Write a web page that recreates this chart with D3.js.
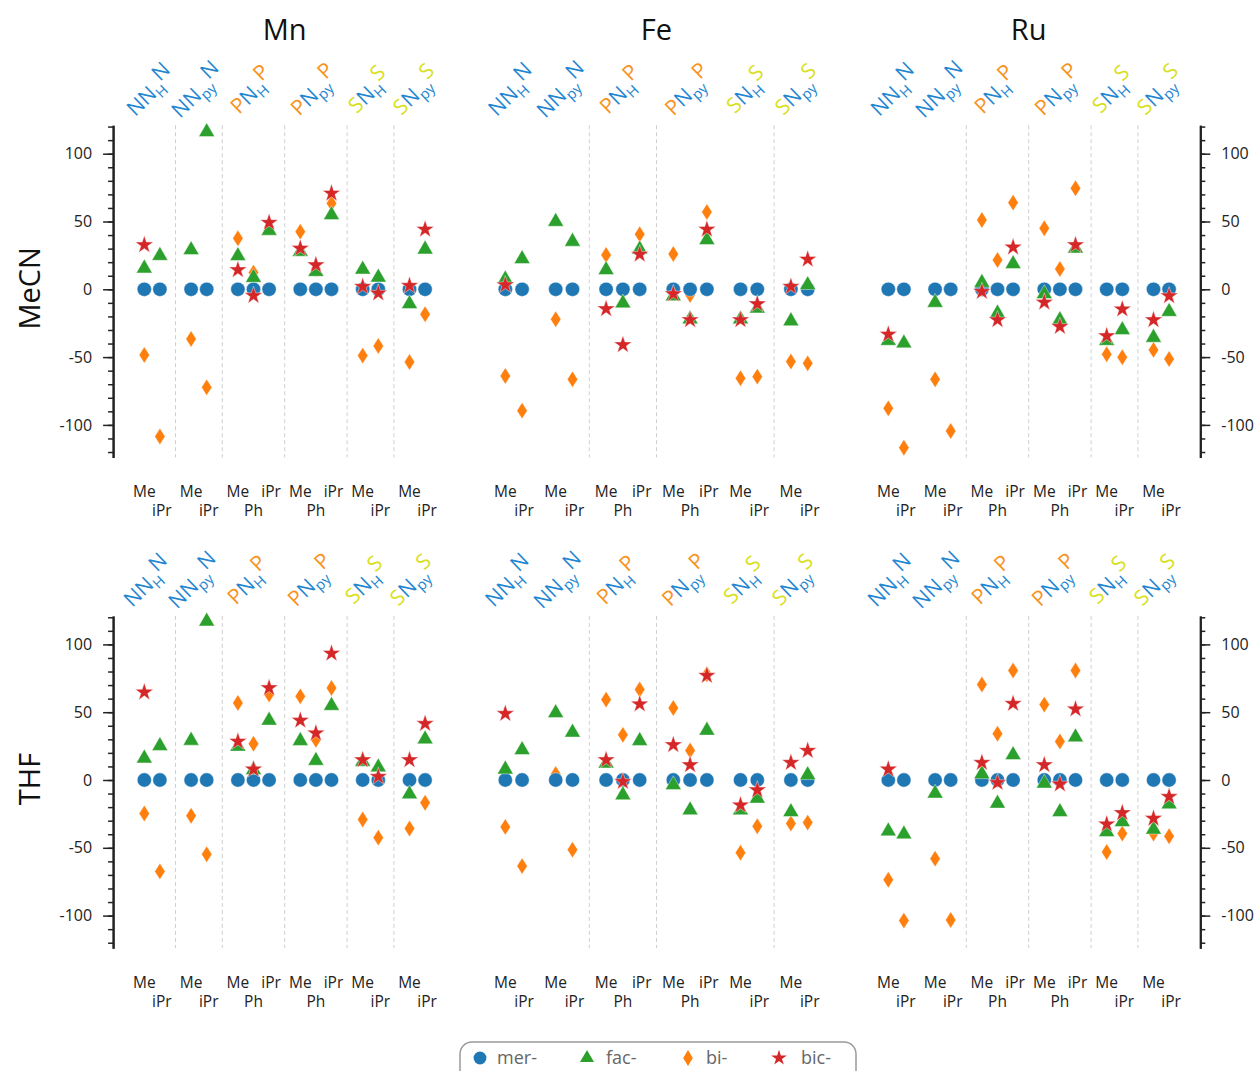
<!DOCTYPE html>
<html><head><meta charset="utf-8">
<script src="https://cdn.jsdelivr.net/npm/d3@7"></script>
<style>body{margin:0;background:#fff} text{font-family:"Open Sans",sans-serif}</style>
</head><body><svg id="c" width="1256" height="1071"></svg>
<script>
// ---------------- DATA ----------------
const metals = ["Mn", "Fe", "Ru"];
const solvents = ["MeCN", "THF"];
const xIndex = [0, 1, 3, 4, 6, 7, 8, 10, 11, 12, 14, 15, 17, 18];
const substituents = ["Me","iPr","Me","iPr","Me","Ph","iPr","Me","Ph","iPr","Me","iPr","Me","iPr"];
const groupCenters = [0.5, 3.5, 7, 11, 14.5, 17.5];
const yTicks = [-100, -50, 0, 50, 100];
const seriesNames = ["mer-", "fac-", "bi-", "bic-"];

const mer = [0,0,0,0,0,0,0,0,0,0,0,0,0,0];

const facMnMeCN = [15.5, 24.8, 29, 116, 24.6, 8.6, 43.3, 27.8, 13, 54.8, 14.7, 8.8, -10.8, 29.5];
const biMnMeCN  = [-48.4, -108.6, -36.6, -72.3, 37.6, 12.3, 46, 42.5, 15, 63.4, -48.9, -41.8, -53.6, -18.4];
const bicMnMeCN = [32.7, null, null, null, 14.3, -4.7, 49.2, 30.2, 17.9, 70.8, 2, -2.9, 2.7, 44.2];

const facFeMeCN = [7.4, 22.4, 49.9, 35.2, 14.3, -10.3, 29.5, -5, -22, 36.4, -22, -14, -23.4, 3.2];
const biFeMeCN  = [-63.9, -89.5, -22.1, -66.4, 25.3, -1.7, 40.6, 26, -4.2, 57, -65.6, -64.4, -53.3, -54.6];
const bicFeMeCN = [3.2, null, null, null, -14.5, -41, 25.8, -3.4, -22.6, 44.2, -22.6, -10.8, 2, 22.1];

const facRuMeCN = [-37.9, -39.8, -9.8, null, 4.9, -17.7, 18.7, -3.4, -22.6, 30.2, -37.9, -30, -35.6, -16.5];
const biRuMeCN  = [-87.8, -116.8, -66.4, -104.5, 51.1, 21.6, 63.9, 45, 15, 74.5, -47.9, -50.1, -44.7, -51.4];
const bicRuMeCN = [-33.2, null, null, null, -1.7, -22.6, 31, -9.6, -27.5, 32.7, -34.4, -14.7, -22.6, -4.9];

const facMnTHF = [16, 25.2, 29.1, 117, 24.7, 7.4, 43.9, 28.9, 14.3, 54.8, 13.6, 9.4, -10.4, 30.1];
const biMnTHF  = [-24.7, -67.4, -26.4, -54.8, 56.8, 26.7, 63, 61.7, 29.6, 67.9, -29.1, -42.5, -35.8, -16.8];
const bicMnTHF = [64.7, null, null, null, 28.4, 7.9, 67.9, 43.9, 34.6, 93.3, 14.8, 2.5, 14.8, 41.5];

const facFeTHF = [7.9, 22.2, 49.4, 35.1, 12.3, -11.1, 28.9, -3.7, -22.2, 36.5, -22.2, -13.6, -23.5, 3.7];
const biFeTHF  = [-34.6, -63.5, 4.4, -51.4, 59.3, 33.3, 66.7, 53.1, 21.7, 78, -53.6, -34.1, -32.1, -31.4];
const bicFeTHF = [48.9, null, null, null, 14.8, -1.2, 56, 25.9, 11.1, 77, -18.5, -7.4, 12.8, 21.7];

const facRuTHF = [-37.8, -40, -9.9, null, 4.4, -17.3, 18.5, -2.5, -23.5, 31.6, -38.3, -30.9, -36.5, -17.8];
const biRuTHF  = [-73.6, -103.7, -58, -103.2, 70.4, 34.1, 80.7, 55.6, 28.4, 80.7, -53.1, -39.5, -39.5, -41.5];
const bicRuTHF = [7.9, null, null, null, 12.8, -2, 56.3, 11.1, -3, 52.3, -32.6, -24.2, -28.4, -12.3];

const separators = {Mn: [2, 5, 9, 13, 16], Fe: [5, 9, 16], Ru: [5, 9, 13, 16]};

// ligand labels: [text, element colour, role]
const ligandLabels = [
  [["NN","N","m"],["H","N","sub"],["N","N","sup"]],
  [["NN","N","m"],["py","N","sub"],["N","N","sup"]],
  [["P","P","m"],["N","N","m"],["H","N","sub"],["P","P","sup"]],
  [["P","P","m"],["N","N","m"],["py","N","sub"],["P","P","sup"]],
  [["S","S","m"],["N","N","m"],["H","N","sub"],["S","S","sup"]],
  [["S","S","m"],["N","N","m"],["py","N","sub"],["S","S","sup"]]
];

const data = {
  Mn: {MeCN: {mer, fac: facMnMeCN, bi: biMnMeCN, bic: bicMnMeCN}, THF: {mer, fac: facMnTHF, bi: biMnTHF, bic: bicMnTHF}},
  Fe: {MeCN: {mer, fac: facFeMeCN, bi: biFeMeCN, bic: bicFeMeCN}, THF: {mer, fac: facFeTHF, bi: biFeTHF, bic: bicFeTHF}},
  Ru: {MeCN: {mer, fac: facRuMeCN, bi: biRuMeCN, bic: bicRuMeCN}, THF: {mer, fac: facRuTHF, bi: biRuTHF, bic: bicRuTHF}}
};

// ---------------- LAYOUT ----------------
const svg = d3.select("#c");
const panelRange = {Mn: [113.1, 456.3], Fe: [471.7, 841.3], Ru: [857.1, 1200.3]};
const rowZero = {MeCN: 289.3, THF: 780};
const pxPerUnit = 1.356;
const yDomain = [-124, 121];
const elemColor = {N: "#1f86d1", P: "#f7931e", S: "#d9e021"};

const diamondPath = "M0,-8.2L5.2,0L0,8.2L-5.2,0Z";
const seriesDefs = [
  {key: "bi", color: "#ff7f0e", path: diamondPath},
  {key: "mer", color: "#1f77b4", path: d3.symbol(d3.symbolCircle, 160)()},
  {key: "fac", color: "#2ca02c", path: d3.symbol(d3.symbolTriangle, 110)()},
  {key: "bic", color: "#d62728", path: d3.symbol(d3.symbolStar, 100)()}
];

// titles
metals.forEach(m => {
  const r = panelRange[m];
  svg.append("text").attr("x", (r[0] + r[1]) / 2).attr("y", 40)
    .attr("text-anchor", "middle").attr("font-size", 29).attr("fill", "#111").text(m);
});
solvents.forEach(s => {
  svg.append("text").attr("transform", `translate(40,${rowZero[s] - 1}) rotate(-90)`)
    .attr("text-anchor", "middle").attr("font-size", 29).attr("fill", "#111").text(s);
});

solvents.forEach(s => {
  const y0 = rowZero[s];
  const y = d3.scaleLinear().domain(yDomain)
    .range([y0 - yDomain[0] * pxPerUnit, y0 - yDomain[1] * pxPerUnit]);
  const off = s === "THF" ? rowZero.THF - rowZero.MeCN : 0;

  metals.forEach(m => {
    const x = d3.scaleLinear().domain([-2, 20]).range(panelRange[m]);
    const g = svg.append("g");

    // separators
    g.selectAll("line.sep").data(separators[m]).join("line")
      .attr("x1", d => x(d)).attr("x2", d => x(d))
      .attr("y1", y(yDomain[1])).attr("y2", y(yDomain[0]))
      .attr("stroke", "#cfcfcf").attr("stroke-width", 1).attr("stroke-dasharray", "4,3");

    // axes
    if (m === "Mn" || m === "Ru") {
      const mk = m === "Mn" ? d3.axisLeft : d3.axisRight;
      const ax = m === "Mn" ? x(-2) : x(20);
      const minor = g.append("g").attr("transform", `translate(${ax},0)`)
        .call(mk(y).tickValues(d3.range(-120, 121, 10)).tickSize(5).tickSizeOuter(0).tickFormat(""));
      const major = g.append("g").attr("transform", `translate(${ax},0)`)
        .call(mk(y).tickValues(yTicks).tickSize(10).tickSizeOuter(0).tickPadding(11).tickFormat(d => String(d)));
      [minor, major].forEach(a => {
        a.select(".domain").attr("stroke", "#222").attr("stroke-width", 2);
        a.selectAll(".tick line").attr("stroke", "#222").attr("stroke-width", 1.5);
        a.selectAll(".tick text").attr("font-size", 16).attr("fill", "#222")
          .attr("font-family", '"Open Sans",sans-serif');
      });
    }

    // ligand labels
    ligandLabels.forEach((lab, gi) => {
      const t = g.append("text")
        .attr("transform", `translate(${x(groupCenters[gi]) + (s === "THF" ? 1 : 4)},${97 + off}) rotate(-44)`)
        .attr("text-anchor", "middle");
      let cur = 0;
      lab.forEach(([txt, el, role]) => {
        const target = role === "sub" ? 5 : role === "sup" ? -8 : 0;
        t.append("tspan").attr("dy", target - cur)
          .attr("font-size", role === "sub" ? 14.5 : 21)
          .attr("fill", elemColor[el]).text(txt);
        cur = target;
      });
    });

    // substituent labels
    g.selectAll("text.sub").data(substituents).join("text")
      .attr("x", (d, i) => x(xIndex[i]) + (d === "iPr" ? 2 : 0))
      .attr("y", (d, i) => {
        let k = 0; // position within group
        for (let j = i - 1; j >= 0 && xIndex[j] === xIndex[j + 1] - 1; j--) k++;
        return (k % 2 === 0 ? 497 : 516) + off;
      })
      .attr("text-anchor", "middle").attr("font-size", 15.5).attr("fill", "#222").text(d => d);

    // markers
    seriesDefs.forEach(sd => {
      const vals = data[m][s][sd.key];
      g.selectAll(null).data(vals.map((v, i) => ({v, i})).filter(d => d.v !== null)).join("path")
        .attr("d", sd.path)
        .attr("transform", d => `translate(${x(xIndex[d.i])},${y(d.v)})`)
        .attr("fill", sd.color).attr("stroke", "#fff").attr("stroke-width", 0.6).attr("stroke-opacity", 0.7);
    });
  });
});

// legend
const lg = svg.append("g");
lg.append("rect").attr("x", 460).attr("y", 1042).attr("width", 396).attr("height", 44).attr("rx", 12)
  .attr("fill", "none").attr("stroke", "#999").attr("stroke-width", 1.5);
const legendX = [480, 587, 688, 779];
const legendTextX = [497, 606, 706, 801];
const legendOrder = ["mer", "fac", "bi", "bic"];
legendOrder.forEach((k, i) => {
  const sd = seriesDefs.find(d => d.key === k);
  lg.append("path").attr("d", k === "bic" ? d3.symbol(d3.symbolStar, 75)() : k === "mer" ? d3.symbol(d3.symbolCircle, 130)() : k === "fac" ? d3.symbol(d3.symbolTriangle, 85)() : "M0,-8L4.8,0L0,8L-4.8,0Z")
    .attr("transform", `translate(${legendX[i]},1058)`).attr("fill", sd.color);
  lg.append("text").attr("x", legendTextX[i]).attr("y", 1064).attr("font-size", 18).attr("fill", "#666").text(seriesNames[i]);
});
</script></body></html>
